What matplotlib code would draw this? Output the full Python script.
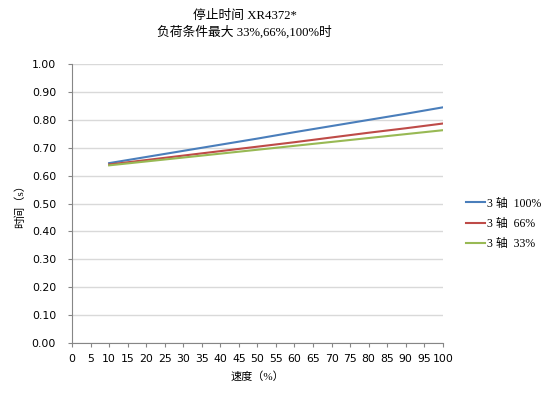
import matplotlib
matplotlib.use("Agg")
import matplotlib.pyplot as plt

plt.rcParams['font.family'] = ['DejaVu Sans', 'Noto Sans CJK SC']

speed = [10, 20, 30, 40, 50, 60, 70, 80, 90, 100]
t_100 = [0.645, 0.667, 0.689, 0.711, 0.733, 0.756, 0.778, 0.800, 0.822, 0.845]
t_66 = [0.640, 0.656, 0.672, 0.688, 0.704, 0.720, 0.737, 0.754, 0.770, 0.787]
t_33 = [0.637, 0.651, 0.665, 0.679, 0.693, 0.707, 0.721, 0.735, 0.749, 0.763]
labels = ['3 轴  100%', '3 轴  66%', '3 轴  33%']

fig = plt.figure(figsize=(5.5, 3.96), dpi=100)
ax = fig.add_axes([0.131, 0.134, 0.674, 0.704])

ax.plot(speed, t_100, color='#4a7ebb', linewidth=1.5, label=labels[0])
ax.plot(speed, t_66, color='#be4b48', linewidth=1.5, label=labels[1])
ax.plot(speed, t_33, color='#98b954', linewidth=1.5, label=labels[2])

ax.set_xlim(0, 100)
ax.set_ylim(0, 1.0)
ax.set_xticks(range(0, 101, 5))
ax.set_yticks([i / 10 for i in range(11)])
ax.set_yticklabels([f'{i / 10:.2f}' for i in range(11)])
ax.tick_params(labelsize=7.8, length=3, color='#868686', pad=8.5)
ax.tick_params(axis='x', pad=5)
ax.grid(axis='y', color='#d9d9d9', linewidth=1)
ax.set_axisbelow(True)
for s in ['top', 'right']:
    ax.spines[s].set_visible(False)
for s in ['left', 'bottom']:
    ax.spines[s].set_color('#868686')

cjk = ['Liberation Serif', 'Noto Sans CJK SC']
ax.set_xlabel('速度（%）', fontsize=8, family=cjk, labelpad=5)
ax.set_ylabel('时间（s）', fontsize=8, family=cjk, labelpad=5)
fig.text(0.445, 0.938, '停止时间 XR4372*\n负荷条件最大 33%,66%,100%时', fontsize=9.2,
         family=cjk, ha='center', va='center', linespacing=1.35)

leg = ax.legend(loc='center left', bbox_to_anchor=(1.035, 0.427), frameon=False,
                prop={'family': cjk, 'size': 8.5}, handlelength=1.6,
                handletextpad=0.15, labelspacing=0.7)

fig.savefig('out.png', dpi=100)
